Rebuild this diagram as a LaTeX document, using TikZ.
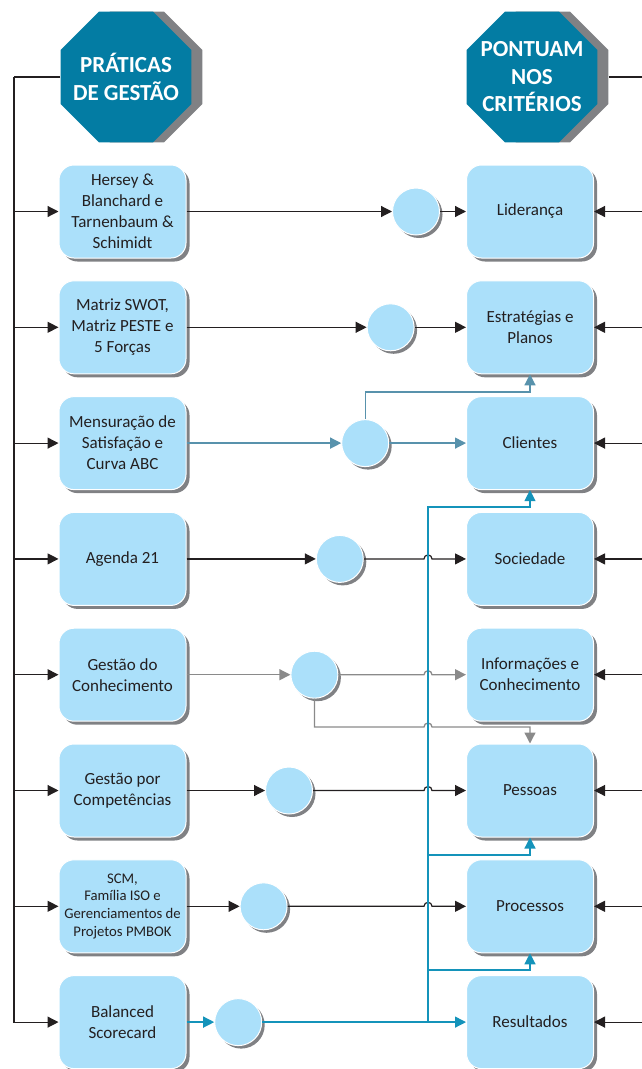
\documentclass[tikz,border=0pt]{standalone}
\usepackage{fontspec}
\setmainfont{Carlito}
\usetikzlibrary{arrows.meta,shapes.geometric,shadows,calc}
\definecolor{octaazul}{RGB}{3,124,163}
\definecolor{sombra}{RGB}{128,129,132}
\definecolor{caixaazul}{RGB}{171,224,250}
\definecolor{textocinza}{RGB}{35,31,32}
\definecolor{azulaco}{RGB}{88,146,172}
\definecolor{cinzalinha}{RGB}{138,138,138}
\definecolor{azulbsc}{RGB}{20,147,186}
\begin{document}
\begin{tikzpicture}[x=1pt, y=1pt, line width=1.2pt,
  octa/.style={regular polygon, regular polygon sides=8, minimum size=141.5pt, inner sep=0pt,
    fill=octaazul, drop shadow={shadow xshift=11pt, shadow yshift=0pt, fill=sombra, opacity=1}},
  octatexto/.style={text=white, align=center, font=\fontsize{23}{27.5}\selectfont\bfseries},
  pratica/.style={rectangle, rounded corners=15pt, minimum width=127pt, minimum height=93pt,
    inner sep=2pt, fill=caixaazul, draw=white, line width=1pt, align=center, text=textocinza,
    font=\fontsize{17}{21}\selectfont,
    drop shadow={shadow xshift=3.5pt, shadow yshift=-3.5pt, fill=sombra, opacity=1}},
  elo/.style={circle, minimum size=47pt, inner sep=0pt, fill=caixaazul, draw=white, line width=1pt,
    drop shadow={shadow xshift=3pt, shadow yshift=-3pt, fill=sombra, opacity=1}},
  seta/.style={-{Triangle[length=11pt,width=11pt]}},
  preto/.style={seta, color=textocinza},
  aco/.style={seta, color=azulaco, line width=1.3pt},
  cinza/.style={seta, color=cinzalinha, line width=1.3pt},
  bsclinha/.style={seta, color=azulbsc, line width=1.3pt}]
  \useasboundingbox (0,0) rectangle (642,-1069);
  % cabecalhos
  \node[octa] (praticas) at (126,-77) {}; \node[octatexto] (praticasTxt) at (praticas) {PRÁTICAS\\DE GESTÃO};
  \node[octa] (pontuam) at (532,-77) {}; \node[octatexto] (pontuamTxt) at (pontuam) {PONTUAM\\NOS\\CRITÉRIOS};
  % praticas de gestao
  \node[pratica] (hersey) at (122.5,-211.5) {Hersey \&\\Blanchard e\\Tarnenbaum \&\\Schimidt};
  \node[pratica] (swot) at (122.5,-327.3) {Matriz SWOT,\\Matriz PESTE e\\5 Forças};
  \node[pratica] (satisf) at (122.5,-443.1) {Mensuração de\\Satisfação e\\Curva ABC};
  \node[pratica] (agenda) at (122.5,-558.9) {Agenda 21};
  \node[pratica] (gconh) at (122.5,-674.7) {Gestão do\\Conhecimento};
  \node[pratica] (gcomp) at (122.5,-790.5) {Gestão por\\Competências};
  \node[pratica, font=\fontsize{14.7}{17.8}\selectfont] (scm) at (122.5,-906.3) {SCM,\\Família ISO e\\Gerenciamentos de\\Projetos PMBOK};
  \node[pratica] (bsc) at (122.5,-1022.1) {Balanced\\Scorecard};
  % elos
  \node[elo] (cLid) at (416,-211.5) {};   \node[elo] (cEst) at (390.6,-327.3) {};
  \node[elo] (cCli) at (365.2,-443.1) {}; \node[elo] (cSoc) at (339.8,-558.9) {};
  \node[elo] (cInf) at (314.4,-674.7) {}; \node[elo] (cPes) at (289,-790.5) {};
  \node[elo] (cPro) at (263.6,-906.3) {}; \node[elo] (cRes) at (238.2,-1022.1) {};
  % criterios
  \node[pratica] (lid) at (530,-211.5) {Liderança};
  \node[pratica] (estr) at (530,-327.3) {Estratégias e\\Planos};
  \node[pratica] (cli) at (530,-443.1) {Clientes};
  \node[pratica] (soc) at (530,-558.9) {Sociedade};
  \node[pratica] (inf) at (530,-674.7) {Informações e\\Conhecimento};
  \node[pratica] (pes) at (530,-790.5) {Pessoas};
  \node[pratica] (proc) at (530,-906.3) {Processos};
  \node[pratica] (res) at (530,-1022.1) {Resultados};
  % troncos
  \coordinate (troncoE) at (14,-77); \coordinate (troncoD) at (642,-77);
  \coordinate (vBsc) at (428,-507); \coordinate (ramoPes) at (428,-855); \coordinate (ramoProc) at (428,-970);
  \coordinate (dobraCli) at (365.2,-392); \coordinate (dobraInf) at (314.4,-727);
  \draw[textocinza] (praticas.west) -- (troncoE);
  \draw[preto] (troncoE) |- (bsc);
  \draw[textocinza] ([xshift=11pt]pontuam.east) -- (troncoD);
  \draw[preto] (troncoE |- hersey) -- (hersey); \draw[preto] (troncoE |- swot) -- (swot);
  \draw[preto] (troncoE |- satisf) -- (satisf); \draw[preto] (troncoE |- agenda) -- (agenda);
  \draw[preto] (troncoE |- gconh) -- (gconh); \draw[preto] (troncoE |- gcomp) -- (gcomp);
  \draw[preto] (troncoE |- scm) -- (scm);
  \draw[preto] (troncoD |- lid) -- (lid); \draw[preto] (troncoD |- estr) -- (estr);
  \draw[preto] (troncoD |- cli) -- (cli); \draw[preto] (troncoD |- soc) -- (soc);
  \draw[preto] (troncoD |- inf) -- (inf); \draw[preto] (troncoD |- pes) -- (pes);
  \draw[preto] (troncoD |- proc) -- (proc); \draw[preto] (troncoD |- res) -- (res);
  % ligacoes
  \draw[preto] (hersey) -- (cLid); \draw[preto] (cLid) -- (lid);
  \draw[preto] (swot) -- (cEst); \draw[preto] (cEst) -- (estr);
  \draw[aco] (satisf) -- (cCli); \draw[aco] (cCli) -- (cli);
  \draw[aco] (cCli) -- (dobraCli) -| (estr);
  \draw[preto] (agenda) -- (cSoc);
  \draw[preto] (cSoc) -- ($(vBsc |- cSoc)-(4,0)$) arc[start angle=180, end angle=0, radius=4] -- (soc);
  \draw[cinza] (gconh) -- (cInf);
  \draw[cinza] (cInf) -- ($(vBsc |- cInf)-(4,0)$) arc[start angle=180, end angle=0, radius=4] -- (inf);
  \draw[cinza] (cInf) -- (dobraInf) -- ($(vBsc |- dobraInf)-(4,0)$) arc[start angle=180, end angle=0, radius=4]
    -- (pes.north |- dobraInf) -- (pes);
  \draw[preto] (gcomp) -- (cPes);
  \draw[preto] (cPes) -- ($(vBsc |- cPes)-(4,0)$) arc[start angle=180, end angle=0, radius=4] -- (pes);
  \draw[preto] (scm) -- (cPro);
  \draw[preto] (cPro) -- ($(vBsc |- cPro)-(4,0)$) arc[start angle=180, end angle=0, radius=4] -- (proc);
  \draw[bsclinha] (bsc) -- (cRes); \draw[bsclinha] (cRes) -- (res);
  \draw[bsclinha] (vBsc |- res) -- (vBsc) -| (cli);
  \draw[bsclinha] (ramoPes) -| (pes); \draw[bsclinha] (ramoProc) -| (proc);
\end{tikzpicture}
\end{document}
